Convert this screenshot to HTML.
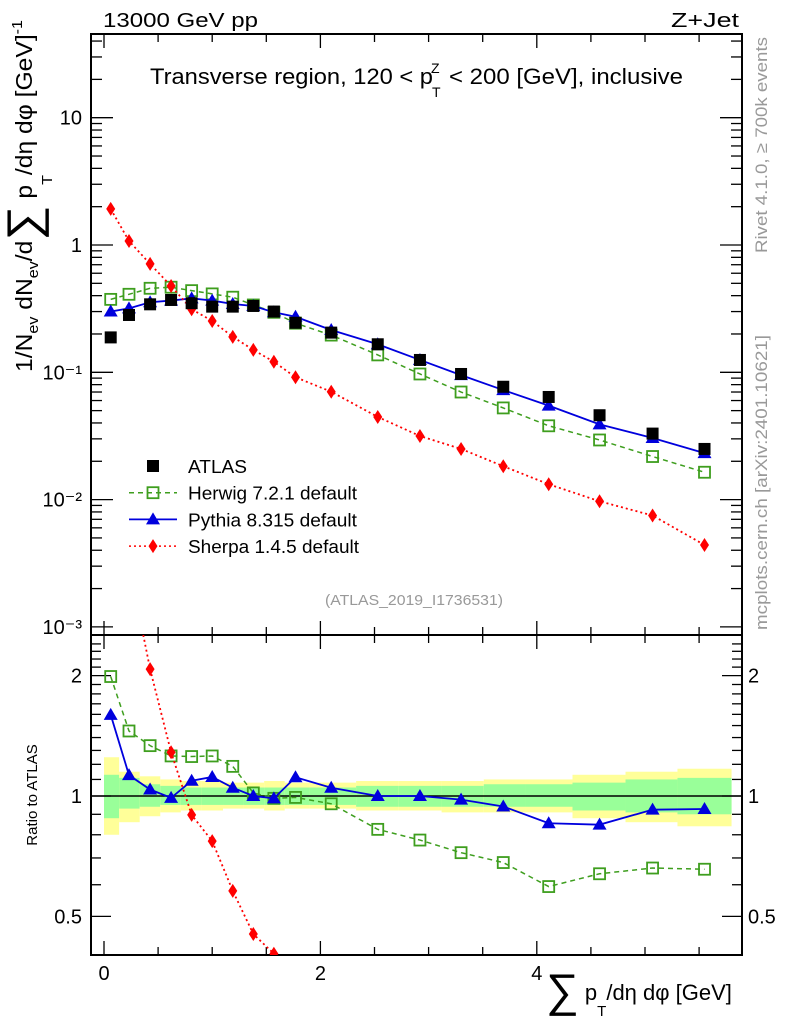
<!DOCTYPE html>
<html><head><meta charset="utf-8"><style>
html,body{margin:0;padding:0;background:#fff;overflow:hidden;width:786px;height:1024px;}
svg{display:block;font-family:"Liberation Sans",sans-serif;}
</style></head><body>
<svg id="c" width="786" height="1024" viewBox="0 0 786 1024" xmlns="http://www.w3.org/2000/svg">
<g id="bands"></g>
<g id="axes"></g>
<g id="series"></g>
<text x="103" y="27" font-size="20" textLength="155" lengthAdjust="spacingAndGlyphs">13000 GeV pp</text>
<text x="671" y="27" font-size="20" textLength="68" lengthAdjust="spacingAndGlyphs">Z+Jet</text>
<g>
<text x="150" y="84" font-size="22" textLength="283" lengthAdjust="spacingAndGlyphs">Transverse region, 120 &lt; p</text>
<text x="432" y="97" font-size="14">T</text>
<text x="431" y="73" font-size="14">Z</text>
<text x="449" y="84" font-size="22" textLength="234" lengthAdjust="spacingAndGlyphs">&lt; 200 [GeV], inclusive</text>
</g>
<text x="325" y="605" font-size="15" fill="#999" textLength="178" lengthAdjust="spacingAndGlyphs">(ATLAS_2019_I1736531)</text>
<text transform="translate(767,253) rotate(-90)" font-size="17" fill="#999" textLength="216" lengthAdjust="spacingAndGlyphs">Rivet 4.1.0, ≥ 700k events</text>
<text transform="translate(767,630) rotate(-90)" font-size="17" fill="#999" textLength="295" lengthAdjust="spacingAndGlyphs">mcplots.cern.ch [arXiv:2401.10621]</text>
<text transform="translate(32,372) rotate(-90)" font-size="23" textLength="352" lengthAdjust="spacingAndGlyphs">1/N<tspan font-size="15" dy="6">ev</tspan><tspan dy="-6"> dN</tspan><tspan font-size="15" dy="6">ev</tspan><tspan dy="-6">/d</tspan><tspan font-size="46" dy="7">∑</tspan><tspan dy="-7"> p</tspan><tspan font-size="15" dy="20">T</tspan><tspan dy="-20">/dη dφ  [GeV]</tspan><tspan font-size="15" dy="-10">-1</tspan></text>
<text transform="translate(37,795) rotate(-90)" font-size="15" text-anchor="middle">Ratio to ATLAS</text>
<text x="546" y="1000" font-size="22"><tspan font-size="46" dy="6">∑</tspan><tspan dy="-6"> p</tspan><tspan font-size="15" dy="16">T</tspan><tspan dy="-16">/dη dφ [GeV]</tspan></text>
<g id="legend"></g>
</svg>
<script>
const xCenters=[0.062,0.231,0.426,0.62,0.81,1.0,1.19,1.38,1.57,1.77,2.1,2.53,2.92,3.30,3.69,4.11,4.58,5.07,5.55];
const xEdges=[0,0.14,0.33,0.52,0.71,0.90,1.10,1.29,1.48,1.67,1.90,2.33,2.72,3.12,3.51,3.90,4.33,4.82,5.30,5.80];
const atlas=[0.188,0.282,0.342,0.37,0.349,0.328,0.328,0.332,0.30,0.245,0.205,0.166,0.125,0.097,0.077,0.064,0.046,0.033,0.025];
const herwig=[0.374,0.41,0.457,0.466,0.438,0.413,0.389,0.338,0.296,0.243,0.196,0.137,0.097,0.070,0.0525,0.038,0.0294,0.0218,0.0164];
const pythia=[0.30,0.318,0.355,0.366,0.381,0.366,0.344,0.332,0.296,0.273,0.215,0.166,0.125,0.095,0.0725,0.0547,0.039,0.0305,0.0232];
const sherpa=[1.92,1.075,0.71,0.476,0.313,0.253,0.19,0.15,0.121,0.0915,0.0704,0.0446,0.0316,0.025,0.0183,0.0132,0.0097,0.0075,0.0044];
const yelUp=[1.25,1.15,1.12,1.10,1.09,1.09,1.08,1.08,1.09,1.08,1.08,1.09,1.09,1.09,1.10,1.10,1.13,1.15,1.17];
const yelDn=[0.80,0.86,0.89,0.91,0.92,0.92,0.93,0.93,0.92,0.93,0.93,0.92,0.92,0.91,0.91,0.91,0.88,0.86,0.84];
const grnUp=[1.13,1.11,1.07,1.06,1.05,1.05,1.05,1.05,1.05,1.05,1.05,1.06,1.06,1.06,1.07,1.07,1.08,1.10,1.11];
const grnDn=[0.88,0.93,0.94,0.95,0.95,0.95,0.95,0.95,0.95,0.95,0.95,0.94,0.94,0.94,0.94,0.94,0.92,0.91,0.90];
const yTickLabels=["10⁻³","10⁻²","10⁻¹","1","10"];
const xTickLabels=["0","2","4"];

const NS="http://www.w3.org/2000/svg";
const L=91,R=742,T=34,MB=635,RB=955;
const X=v=>104+v*108.2;
const Y=v=>245-Math.log10(v)*127.3;
const YR=v=>796-Math.log10(v)*400;
function mk(tag,at,parent){const e=document.createElementNS(NS,tag);for(const k in at)e.setAttribute(k,at[k]);parent.appendChild(e);return e;}
const axes=document.getElementById('axes'),ser=document.getElementById('series'),bands=document.getElementById('bands'),leg=document.getElementById('legend');

for(let i=0;i<xCenters.length;i++){
  const x0=X(xEdges[i]),x1=X(xEdges[i+1]);
  let r=mk('rect',{x:x0,y:YR(yelUp[i]),width:x1-x0,height:YR(yelDn[i])-YR(yelUp[i]),fill:'#ffff99'},bands);
  
  
  r=mk('rect',{x:x0,y:YR(grnUp[i]),width:x1-x0,height:YR(grnDn[i])-YR(grnUp[i]),fill:'#99ff99'},bands);
  
  
}
let f=mk('rect',{x:L,y:T,width:R-L,height:MB-T,fill:'none',stroke:'#000','stroke-width':2},axes);

f=mk('rect',{x:L,y:MB,width:R-L,height:RB-MB,fill:'none',stroke:'#000','stroke-width':2},axes);

let l1=mk('line',{x1:L,x2:R,y1:YR(1),y2:YR(1),stroke:'#000','stroke-width':1.5},axes);

for(let v=0;v<=5.9;v+=0.5){
  const major=Math.abs(v/2-Math.round(v/2))<1e-6;const len=major?14:8;
  for(const [y,d] of [[T,1],[MB,-1],[MB,1],[RB,-1]]){
    const t=mk('line',{x1:X(v),x2:X(v),y1:y,y2:y+d*len,stroke:'#000','stroke-width':1.3},axes);
    
  }
}
xTickLabels.forEach((s,i)=>{const t=mk('text',{x:X(i*2),y:980,'font-size':20,'text-anchor':'middle'},axes);t.textContent=s;
 });
for(let e=-3;e<=1;e++){
  for(let m=1;m<=9;m++){
    const v=m*Math.pow(10,e);const y=Y(v);if(y<T||y>MB)continue;
    const len=m==1?22:11;
    for(const [x,d] of [[L,1],[R,-1]]){
      const t=mk('line',{x1:x,x2:x+d*len,y1:y,y2:y,stroke:'#000','stroke-width':1.3},axes);
      
    }
  }
}
yTickLabels.forEach((s,i)=>{const t=mk('text',{x:82,y:Y(Math.pow(10,i-3))+7,'font-size':20,'text-anchor':'end'},axes);t.textContent=s;
 });
for(let v=0.4;v<=2.5;v+=0.1){
  const y=YR(v);if(y<MB||y>RB)continue;
  const major=[0.5,1,2].some(q=>Math.abs(q-v)<1e-6);const len=major?20:10;
  for(const [x,d] of [[L,1],[R,-1]]){
    const t=mk('line',{x1:x,x2:x+d*len,y1:y,y2:y,stroke:'#000','stroke-width':1.3},axes);
    
  }
}
[["2",2],["1",1],["0.5",0.5]].forEach(([s,v])=>{
  for(const [x,a] of [[82,'end'],[748,'start']]){
    const t=mk('text',{x:x,y:YR(v)+7,'font-size':20,'text-anchor':a},axes);t.textContent=s;
    
  }
});
const defs=mk('defs',{},document.getElementById('c'));
let cp=mk('clipPath',{id:'cm'},defs);mk('rect',{x:L,y:T,width:R-L,height:MB-T},cp);
cp=mk('clipPath',{id:'cr'},defs);mk('rect',{x:L,y:MB,width:R-L,height:RB-MB},cp);

function marker(g,type,x,y,col){
  let e;
  if(type=='sq')e=mk('rect',{x:x-6,y:y-6,width:12,height:12,fill:'#000'},g);
  if(type=='osq')e=mk('rect',{x:x-5.5,y:y-5.5,width:11,height:11,fill:'none',stroke:col,'stroke-width':1.8},g);
  if(type=='tri')e=mk('polygon',{points:`${x},${y-7} ${x-7},${y+5} ${x+7},${y+5}`,fill:col},g);
  if(type=='dia')e=mk('polygon',{points:`${x},${y-7} ${x-4.5},${y} ${x},${y+7} ${x+4.5},${y}`,fill:col},g);
  
}
const defsS=[
 {name:'herwig',data:herwig,col:'#3e9e1e',type:'osq',dash:'5,4',w:1.5},
 {name:'pythia',data:pythia,col:'#0000dd',type:'tri',dash:'',w:1.8},
 {name:'sherpa',data:sherpa,col:'#ff0000',type:'dia',dash:'2,3',w:1.8}];
let gm=mk('g',{'clip-path':'url(#cm)'},ser);

defsS.forEach(s=>{
  const g=mk('g',{},gm);
  const p=mk('polyline',{points:s.data.map((v,i)=>X(xCenters[i])+','+Y(v)).join(' '),fill:'none',stroke:s.col,'stroke-width':s.w,'stroke-dasharray':s.dash},g);
  
  s.data.forEach((v,i)=>marker(g,s.type,X(xCenters[i]),Y(v),s.col));
});
const ga=mk('g',{},gm);
atlas.forEach((v,i)=>marker(ga,'sq',X(xCenters[i]),Y(v),'#000'));
let gr=mk('g',{'clip-path':'url(#cr)'},ser);

defsS.forEach(s=>{
  const g=mk('g',{},gr);
  const r=s.data.map((v,i)=>v/atlas[i]);
  const p=mk('polyline',{points:r.map((v,i)=>X(xCenters[i])+','+YR(v)).join(' '),fill:'none',stroke:s.col,'stroke-width':s.w,'stroke-dasharray':s.dash},g);
  
  r.forEach((v,i)=>marker(g,s.type,X(xCenters[i]),YR(v),s.col));
});
const legItems=[['ATLAS','sq','#000','',0,59],['Herwig 7.2.1 default','osq','#3e9e1e','5,4',1.5,169],['Pythia 8.315 default','tri','#0000dd','',1.8,169],['Sherpa 1.4.5 default','dia','#ff0000','2,3',1.5,171]];
legItems.forEach((it,i)=>{
  const y=466+i*26.7;
  const g=mk('g',{},leg);
  if(i>0){const ln=mk('line',{x1:129,x2:177,y1:y,y2:y,stroke:it[2],'stroke-width':it[4],'stroke-dasharray':it[3]},g);
    }
  marker(g,it[1],153,y,it[2]);
  const t=mk('text',{x:188,y:y+7,'font-size':18,textLength:it[5],lengthAdjust:'spacingAndGlyphs'},g);t.textContent=it[0];
  
});
</script>
</body></html>
